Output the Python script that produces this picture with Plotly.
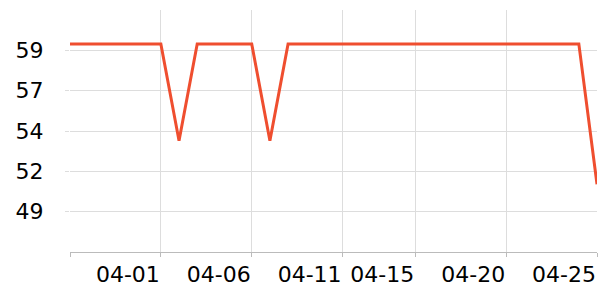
import plotly.graph_objects as go
import pandas as pd

dates = pd.date_range("2024-03-27", "2024-04-25", freq="D").strftime("%Y-%m-%d").tolist()
values = [59.4] * 30
values[6] = 53.4   # 04-02
values[11] = 53.4  # 04-07
values[29] = 50.7  # 04-25

x_tickvals = ["2024-03-27", "2024-04-01", "2024-04-06", "2024-04-11", "2024-04-15", "2024-04-20", "2024-04-25"]
x_ticktext = ["", "04-01", "04-06", "04-11", "04-15", "04-20", "04-25"]
y_tickvals = [49, 51.5, 54, 56.5, 59]
y_ticktext = ["49", "52", "54", "57", "59"]

fig = go.Figure(go.Scatter(
    x=dates, y=values, mode="lines",
    line=dict(color="#ef4e2f", width=3),
    hoverinfo="skip",
))

fig.update_layout(
    width=600, height=300,
    margin=dict(l=70, r=3, t=10, b=48),
    paper_bgcolor="white", plot_bgcolor="white",
    showlegend=False,
    font=dict(family="DejaVu Sans", size=22, color="black"),
)
fig.update_xaxes(
    type="date",
    range=["2024-03-27", "2024-04-25"],
    tickmode="array", tickvals=x_tickvals, ticktext=x_ticktext,
    ticklabelposition="outside left",
    tickangle=0,
    ticklabelstandoff=3,
    showgrid=True, gridcolor="#dddddd", gridwidth=1,
    showline=True, linecolor="#bbbbbb", linewidth=1,
    ticks="outside", ticklen=4, tickcolor="#bbbbbb",
    zeroline=False,
)
fig.update_yaxes(
    range=[46.5, 61.5],
    tickmode="array", tickvals=y_tickvals, ticktext=y_ticktext,
    showgrid=True, gridcolor="#dddddd", gridwidth=1,
    showline=False,
    ticks="outside", ticklen=4, tickcolor="#dddddd",
    ticklabelstandoff=17,
    zeroline=False,
)

fig.write_html("out.html")
